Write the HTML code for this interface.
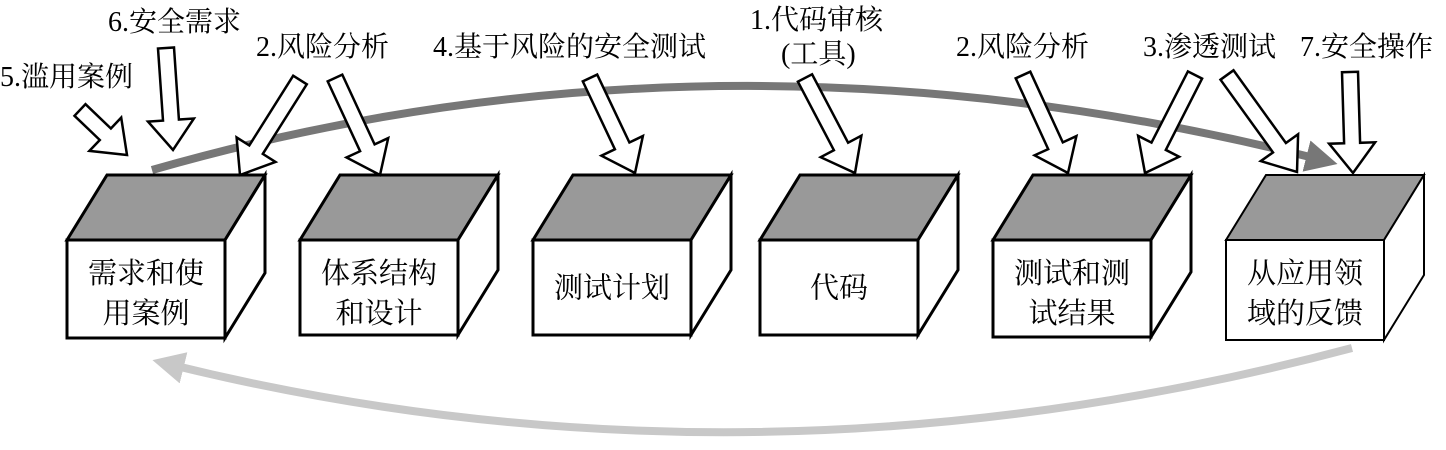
<!DOCTYPE html>
<html><head><meta charset="utf-8"><style>
html,body{margin:0;padding:0;background:#fff;width:1446px;height:450px;overflow:hidden}
svg text{font-family:"Liberation Serif","Noto Serif CJK SC","WenQuanYi Zen Hei",serif;fill:#000}
</style></head><body>
<svg id="s" width="1446" height="450" viewBox="0 0 1446 450" xmlns="http://www.w3.org/2000/svg">
<defs>
<marker id="ha" markerWidth="4" markerHeight="4" refX="2" refY="2" orient="auto" markerUnits="strokeWidth"><path d="M0,0 L4,2 L0,4 z" fill="#777"/></marker>
<marker id="hb" markerWidth="4" markerHeight="4" refX="2" refY="2" orient="auto" markerUnits="strokeWidth"><path d="M0,0 L4,2 L0,4 z" fill="#c8c8c8"/></marker>
</defs>
<path d="M152,170 Q720,7 1322,160" fill="none" stroke="#777" stroke-width="8" marker-end="url(#ha)"/>
<path d="M1352,348 Q750,508 168,364" fill="none" stroke="#c8c8c8" stroke-width="8" marker-end="url(#hb)"/>
<g id="boxes"></g>
<g id="arrows"></g>
<g font-size="28">
<text x="0" y="86">5.滥用案例</text>
<text x="108" y="31">6.安全需求</text>
<text x="256" y="56">2.风险分析</text>
<text x="433" y="56">4.基于风险的安全测试</text>
<text x="750" y="29">1.代码审核</text>
<text x="781" y="63">(工具)</text>
<text x="956" y="56">2.风险分析</text>
<text x="1143" y="56">3.渗透测试</text>
<text x="1300" y="56">7.安全操作</text>
</g>
</svg>
<script>
var NS="http://www.w3.org/2000/svg";
function el(t,a,p){var e=document.createElementNS(NS,t);for(var k in a)e.setAttribute(k,a[k]);p.appendChild(e);return e;}
var B=document.getElementById("boxes");
var bx=[[67,338,["需求和使","用案例"],3],[300,335,["体系结构","和设计"],3],[533,335,["测试计划"],3],[760,335,["代码"],3],[993,337,["测试和测","试结果"],3],[1226,340,["从应用领","域的反馈"],2]];
bx.forEach(function(b){
 var x=b[0],w=158,y=240,bot=b[1],dx=40,dy=65,sw=b[3];
 el("polygon",{points:[x,y,x+dx,y-dy,x+w+dx,y-dy,x+w,y].join(","),fill:"#999",stroke:"#000","stroke-width":sw,"stroke-linejoin":"miter"},B);
 el("polygon",{points:[x+w,y,x+w+dx,y-dy,x+w+dx,bot-dy,x+w,bot].join(","),fill:"#fff",stroke:"#000","stroke-width":sw},B);
 el("rect",{x:x,y:y,width:w,height:bot-y,fill:"#fff",stroke:"#000","stroke-width":sw},B);
 var L=b[2],cx=x+w/2;
 if(L.length==1){var t=el("text",{x:cx,y:(y+bot)/2+10,"font-size":29,"text-anchor":"middle"},B);t.textContent=L[0];}
 else{L.forEach(function(s,i){var t=el("text",{x:cx,y:y+43+i*40,"font-size":29,"text-anchor":"middle"},B);t.textContent=s;});}
});
var A=document.getElementById("arrows");
var ar=[[80,110,127,155],[166,48,173,150],[300,80,240,175],[335,78,380,175],[590,78,635,173],[805,78,855,173],[1023,75,1068,173],[1195,75,1145,173],[1227,75,1297,172],[1350,72,1353,173]];
ar.forEach(function(a){
 var x0=a[0],y0=a[1],x1=a[2],y1=a[3],dx=x1-x0,dy=y1-y0,L=Math.hypot(dx,dy),ux=dx/L,uy=dy/L,nx=-uy,ny=ux;
 var sw=8,hw=23,hl=30;
 var bxp=x1-ux*hl,byp=y1-uy*hl;
 var p=[[x0+nx*sw,y0+ny*sw],[bxp+nx*sw,byp+ny*sw],[bxp+nx*hw,byp+ny*hw],[x1,y1],[bxp-nx*hw,byp-ny*hw],[bxp-nx*sw,byp-ny*sw],[x0-nx*sw,y0-ny*sw]];
 el("polygon",{points:p.map(function(q){return q[0].toFixed(1)+","+q[1].toFixed(1)}).join(" "),fill:"#fff",stroke:"#000","stroke-width":2.5},A);
});
</script>
</body></html>
